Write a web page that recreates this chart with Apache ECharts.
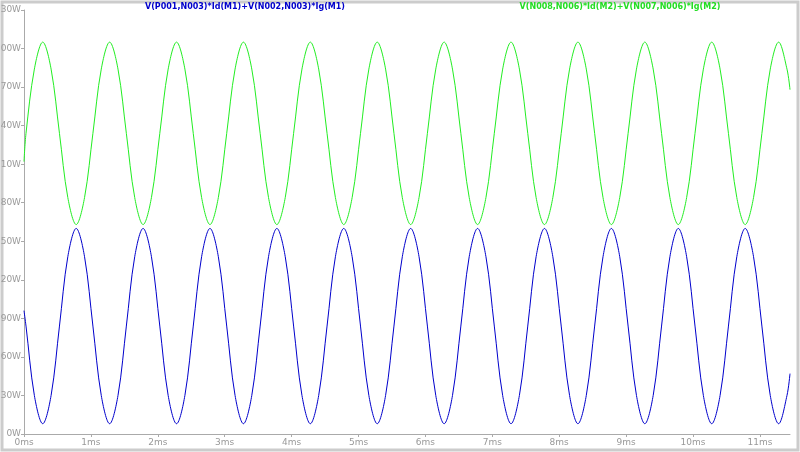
<!DOCTYPE html>
<html><head><meta charset="utf-8">
<script src="https://cdn.jsdelivr.net/npm/echarts@6/dist/echarts.min.js"></script>
<style>html,body{margin:0;padding:0;background:#fff}#c{width:800px;height:452px}</style>
</head><body><div id="c"></div>
<script>
const timesMs = [0,
0.03,0.155,0.28,0.405,0.53,0.655,0.78,0.905,
1.03,1.155,1.28,1.405,1.53,1.655,1.78,1.905,
2.03,2.155,2.28,2.405,2.53,2.655,2.78,2.905,
3.03,3.155,3.28,3.405,3.53,3.655,3.78,3.905,
4.03,4.155,4.28,4.405,4.53,4.655,4.78,4.905,
5.03,5.155,5.28,5.405,5.53,5.655,5.78,5.905,
6.03,6.155,6.28,6.405,6.53,6.655,6.78,6.905,
7.03,7.155,7.28,7.405,7.53,7.655,7.78,7.905,
8.03,8.155,8.28,8.405,8.53,8.655,8.78,8.905,
9.03,9.155,9.28,9.405,9.53,9.655,9.78,9.905,
10.03,10.155,10.28,10.405,10.53,10.655,10.78,10.905,
11.03,11.155,11.28,11.405,11.45];
const powerM2 = [212,
234,284,305,284,234,184,163,184,
234,284,305,284,234,184,163,184,
234,284,305,284,234,184,163,184,
234,284,305,284,234,184,163,184,
234,284,305,284,234,184,163,184,
234,284,305,284,234,184,163,184,
234,284,305,284,234,184,163,184,
234,284,305,284,234,184,163,184,
234,284,305,284,234,184,163,184,
234,284,305,284,234,184,163,184,
234,284,305,284,234,184,163,184,
234,284,305,284,268];
const powerM1 = [96,
84,30,8,30,84,138,160,138,
84,30,8,30,84,138,160,138,
84,30,8,30,84,138,160,138,
84,30,8,30,84,138,160,138,
84,30,8,30,84,138,160,138,
84,30,8,30,84,138,160,138,
84,30,8,30,84,138,160,138,
84,30,8,30,84,138,160,138,
84,30,8,30,84,138,160,138,
84,30,8,30,84,138,160,138,
84,30,8,30,84,138,160,138,
84,30,8,30,47];
const name1 = 'V(P001,N003)*Id(M1)+V(N002,N003)*Ig(M1)';
const name2 = 'V(N008,N006)*Id(M2)+V(N007,N006)*Ig(M2)';

const chart = echarts.init(document.getElementById('c'));
const lbl = {color:'#999', fontSize:9, fontFamily:'DejaVu Sans'};
chart.setOption({
  animation:false,
  backgroundColor:'#fff',
  graphic:[{type:'rect',shape:{x:2,y:2,width:796,height:448},style:{fill:'none',stroke:'#ccc',lineWidth:3}}],
  title:[
    {text:name1,left:240,top:-2,textAlign:'center',textStyle:{color:'#0000cc',fontSize:8,fontWeight:'bold',fontFamily:'DejaVu Sans'}},
    {text:name2,left:615,top:-2,textAlign:'center',textStyle:{color:'#22dd22',fontSize:8,fontWeight:'bold',fontFamily:'DejaVu Sans'}}
  ],
  grid:{left:24,right:10,top:10,bottom:18,containLabel:false,outerBoundsMode:'none'},
  xAxis:{type:'value',min:0,max:11.45,interval:1,
    axisLine:{lineStyle:{color:'#aaa'}},axisTick:{length:3,lineStyle:{color:'#aaa'}},
    splitLine:{show:false},
    axisLabel:Object.assign({formatter:v=>v+'ms',showMaxLabel:false,margin:4},lbl)},
  yAxis:{type:'value',min:0,max:330,interval:30,
    axisLine:{show:true,lineStyle:{color:'#aaa'}},axisTick:{show:true,length:3,lineStyle:{color:'#aaa'}},
    splitLine:{show:false},
    axisLabel:Object.assign({formatter:v=>v+'W',margin:3},lbl)},
  series:[
    {type:'line',name:name2,data:timesMs.map((t,i)=>[t,powerM2[i]]),smooth:0.35,showSymbol:false,lineStyle:{color:'#22ee22',width:1}},
    {type:'line',name:name1,data:timesMs.map((t,i)=>[t,powerM1[i]]),smooth:0.35,showSymbol:false,lineStyle:{color:'#0000cc',width:1}}
  ]
});
</script></body></html>
